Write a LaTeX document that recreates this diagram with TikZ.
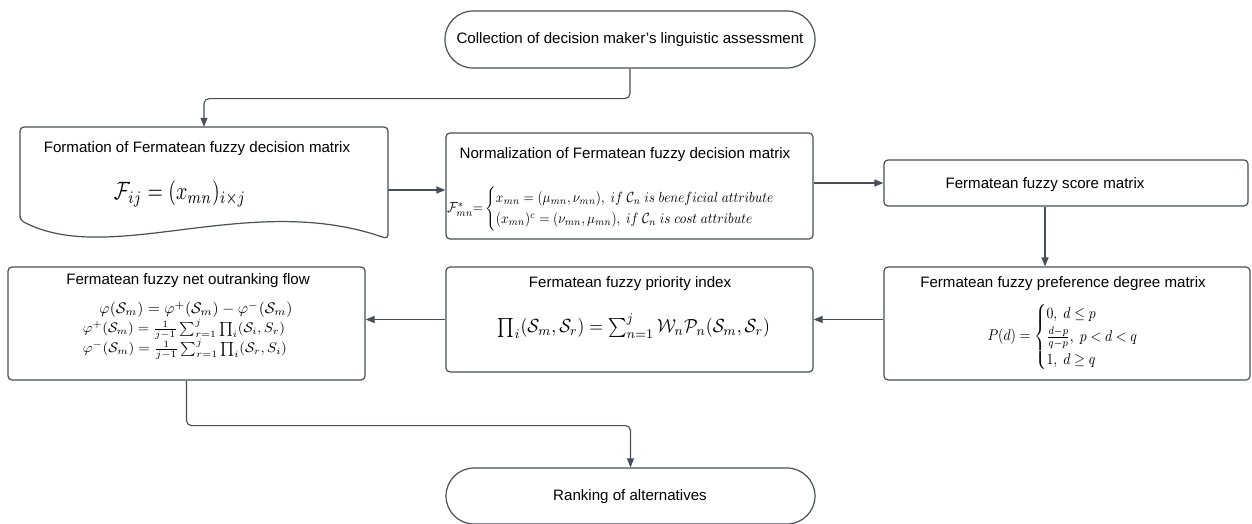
\documentclass[tikz,border=0pt]{standalone}
\usepackage{amsmath}
\usepackage{graphicx}
\usepackage{fontspec}
\setmainfont{Liberation Sans}
\usetikzlibrary{arrows.meta}
\definecolor{ln}{RGB}{72,78,90}
\newcommand{\fitwh}[3]{\resizebox*{#1}{#2}{$#3$}}
\tikzset{
  box/.style={draw=ln, line width=1.2pt, rounded corners=4pt, inner sep=0pt},
  term/.style={draw=ln, line width=1.2pt, rounded corners=28pt, inner sep=0pt},
  lbl/.style={font=\fontsize{15.1}{18}\selectfont, inner sep=0pt, anchor=base, text=black},
  frm/.style={inner sep=0pt, anchor=center, text=black},
  conn/.style={draw=ln, line width=1.1pt, -{Triangle[length=9pt,width=7pt]}, rounded corners=5pt},
}
\begin{document}
\begin{tikzpicture}[x=1pt,y=-1pt]
\useasboundingbox[fill=white] (0,0) rectangle (1252,524);

% shapes
\node[term, minimum width=370pt, minimum height=57pt] (t1) at (630,39.5) {};
\node[inner sep=0pt, minimum width=368pt, minimum height=112pt] (fdoc) at (204,183) {};
\draw[draw=ln, line width=1.2pt, rounded corners=4pt]
  (20,220) -- (20,127) -- (388,127) -- (388,239)
  .. controls (250,190) and (110,268) .. (20,220) -- cycle;
\node[box, minimum width=367pt, minimum height=106pt] (norm) at (629.5,186) {};
\node[box, minimum width=364pt, minimum height=46pt] (score) at (1066,183) {};
\node[box, minimum width=366pt, minimum height=113pt] (pref) at (1067,323.5) {};
\node[box, minimum width=367pt, minimum height=105pt] (prio) at (629.5,319.5) {};
\node[box, minimum width=357pt, minimum height=113pt] (outr) at (186.5,323.5) {};
\node[term, minimum width=369pt, minimum height=56pt] (t2) at (630.5,496) {};

% texts
\node[lbl] (t1txt) at (630,44) {Collection of decision maker’s linguistic assessment};
\node[lbl] (ftitle) at (197,153) {Formation of Fermatean fuzzy decision matrix};
\node[frm] (fform) at (180,194) {\fitwh{132pt}{26pt}{\mathcal{F}_{ij}=(x_{mn})_{i\times j}}};
\node[lbl] (ntitle) at (625,158) {Normalization of Fermatean fuzzy decision matrix};
\node[frm] (nform) at (617.5,209) {\fitwh{341pt}{44pt}{\mathcal{F}^{*}_{mn}{=}\begin{cases}x_{mn}=(\mu_{mn},\nu_{mn}),\ if\ \mathcal{C}_n\ is\ beneficial\ attribute\\ (x_{mn})^{c}=(\nu_{mn},\mu_{mn}),\ if\ \mathcal{C}_n\ is\ cost\ attribute\end{cases}}};
\node[lbl] (stitle) at (1045,188) {Fermatean fuzzy score matrix};
\node[lbl] (ptitle) at (1063,287) {Fermatean fuzzy preference degree matrix};
\node[frm] (pform) at (1070,337) {\fitwh{165pt}{68pt}{P(d)=\begin{cases}0,\ d\le p\\ \frac{d-p}{q-p},\ p<d<q\\ 1,\ d\ge q\end{cases}}};
\node[lbl] (rtitle) at (630,287) {Fermatean fuzzy priority index};
\node[frm] (rform) at (634,326) {\fitwh{272pt}{24pt}{\textstyle\prod_i(\mathcal{S}_m,\mathcal{S}_r)=\sum_{n=1}^{j}\mathcal{W}_n\mathcal{P}_n(\mathcal{S}_m,\mathcal{S}_r)}};
\node[lbl] (otitle) at (188,284) {Fermatean fuzzy net outranking flow};
\node[frm] (orow1) at (196,309.5) {\fitwh{193pt}{16pt}{\varphi(\mathcal{S}_m)=\varphi^{+}(\mathcal{S}_m)-\varphi^{-}(\mathcal{S}_m)}};
\node[frm] (orow2) at (184,329.5) {\fitwh{202pt}{20pt}{\varphi^{+}(\mathcal{S}_m)=\tfrac{1}{j-1}\textstyle\sum_{r=1}^{j}\prod_i(\mathcal{S}_i,S_r)}};
\node[frm] (orow3) at (185,349.5) {\fitwh{204pt}{20pt}{\varphi^{-}(\mathcal{S}_m)=\tfrac{1}{j-1}\textstyle\sum_{r=1}^{j}\prod_i(\mathcal{S}_r,S_i)}};
\node[lbl] (t2txt) at (630,500) {Ranking of alternatives};

% connectors
\draw[conn] (t1.south) -- ++(0,30) -| (fdoc.north);
\draw[conn] ([yshift=-7pt]fdoc.east) -- ([yshift=-7pt]fdoc.east -| norm.west);
\draw[conn] (norm.east |- score.west) -- (score.west);
\draw[conn] ([xshift=-21pt]score.south) -- ([xshift=-21pt]score.south |- pref.north);
\draw[conn] (prio.east -| pref.west) -- (prio.east);
\draw[conn] (prio.west) -- (prio.west -| outr.east);
\draw[conn] (outr.south) -- ++(0,45) -| (t2.north);
\end{tikzpicture}
\end{document}
